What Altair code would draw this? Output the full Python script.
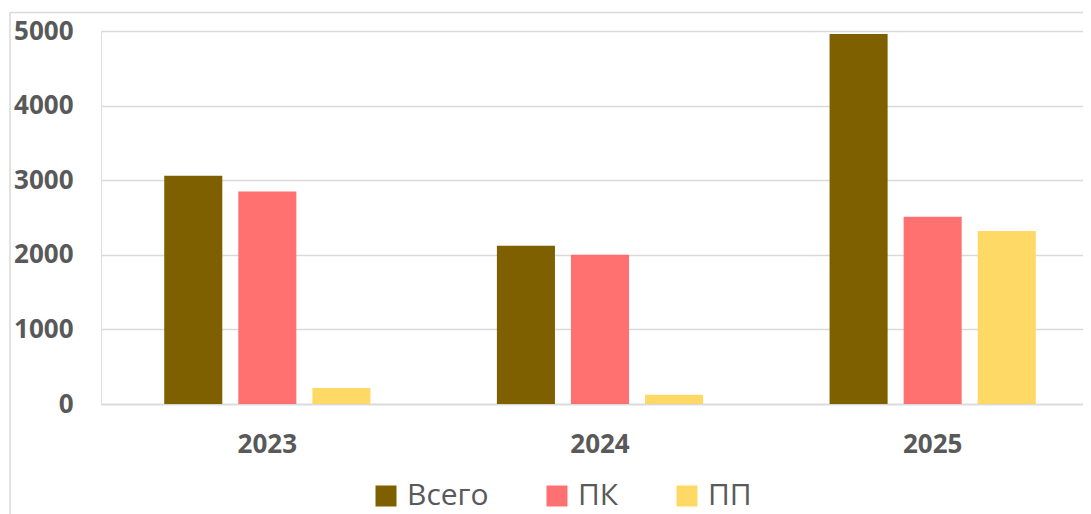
import altair as alt
import pandas as pd

years = ["2023", "2024", "2025"]
series = ["Всего", "ПК", "ПП"]
vsego = [3060, 2120, 4960]
pk = [2850, 2000, 2510]
pp = [215, 125, 2320]
colors = ["#7f6000", "#ff7171", "#ffd966"]
y_ticks = [0, 1000, 2000, 3000, 4000, 5000]

rows = []
for i, yr in enumerate(years):
    for s, vals in zip(series, [vsego, pk, pp]):
        rows.append({"year": yr, "series": s, "value": vals[i]})
df = pd.DataFrame(rows)

FONT = "Open Sans"
GRAY = "#595959"
LINE = "#d9d9d9"

bars = alt.Chart(df).mark_bar().encode(
    x=alt.X(
        "year:N", sort=years, title=None,
        scale=alt.Scale(paddingInner=0.332, paddingOuter=0.166),
        axis=alt.Axis(labelAngle=0, labelFont=FONT, labelFontWeight="bold", labelFontSize=26,
                      labelColor=GRAY, ticks=False, domainColor=LINE, domainWidth=1.5,
                      labelPadding=27, grid=False),
    ),
    xOffset=alt.XOffset("series:N", sort=series,
                        scale=alt.Scale(paddingInner=0.216, paddingOuter=0.108)),
    y=alt.Y(
        "value:Q", title=None,
        scale=alt.Scale(domain=[0, 5000], nice=False),
        axis=alt.Axis(values=y_ticks, format="d", domain=False, ticks=False, labelPadding=28,
                      labelFont=FONT, labelFontWeight="bold", labelFontSize=26, labelColor=GRAY,
                      gridColor=LINE, gridWidth=1.5),
    ),
    color=alt.Color(
        "series:N", sort=series,
        scale=alt.Scale(domain=series, range=colors),
        legend=alt.Legend(title=None, orient="none", legendX=270, legendY=450,
                          direction="horizontal", symbolType="square", symbolSize=441,
                          symbolStrokeWidth=0, labelFont=FONT, labelFontSize=30,
                          labelColor=GRAY, labelOffset=6, columnPadding=53, padding=0),
    ),
)

frame_top = alt.Chart(alt.Data(values=[{}])).mark_rule(color=LINE, strokeWidth=1.5).encode(
    x=alt.value(-91), x2=alt.value(1100), y=alt.value(-18.5)
)
frame_left = alt.Chart(alt.Data(values=[{}])).mark_rule(color=LINE, strokeWidth=1.5).encode(
    x=alt.value(-91), y=alt.value(-18.5), y2=alt.value(600)
)

chart = alt.layer(frame_top, frame_left, bars).properties(
    width=998, height=373,
    autosize=alt.AutoSizeParams(type="none"),
    padding={"left": 93, "top": 23, "right": -16, "bottom": 110},
).configure_view(stroke=None).configure(background="white")

chart.save("out.html", embed_options={"renderer": "svg", "actions": False})
